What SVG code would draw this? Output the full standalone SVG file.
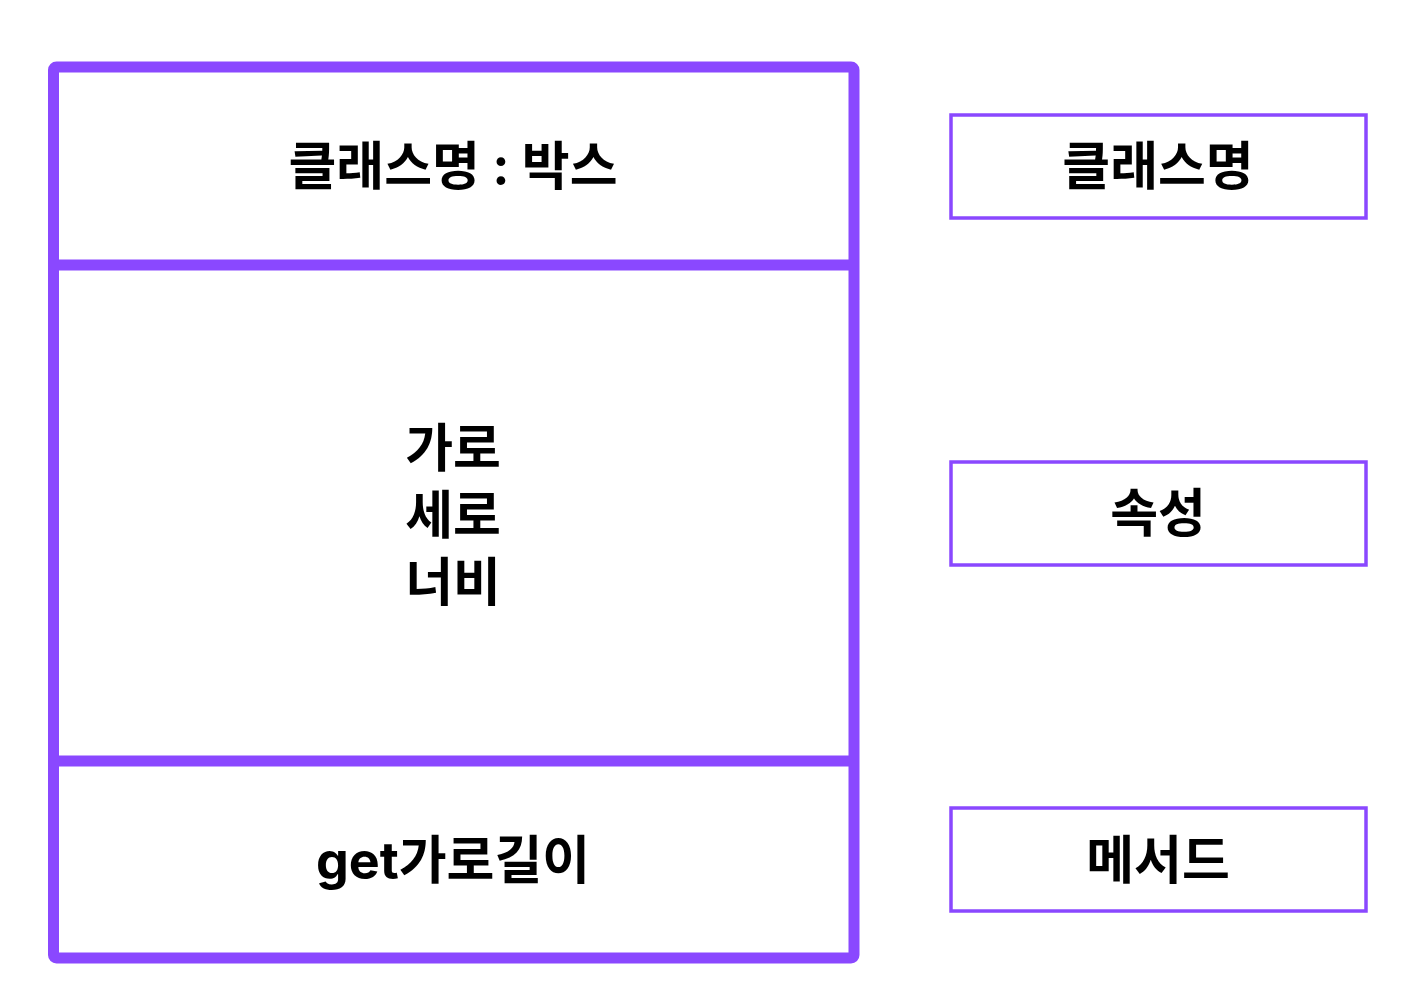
<svg xmlns="http://www.w3.org/2000/svg" width="1419" height="1000" viewBox="0 0 1419 1000">
<style>
.thick{fill:none;stroke:#8A48FF;stroke-width:11;stroke-linejoin:round}
.thin{fill:#fff;stroke:#8A48FF;stroke-width:3.5}
.t{font-family:"Inter","Noto Sans CJK KR",sans-serif;font-weight:700;font-size:52px;fill:#000;text-anchor:middle;dominant-baseline:central}
</style>
<rect width="1419" height="1000" fill="#fff"/>
<g id="class-box">
<rect class="thick" x="53.5" y="67" width="800.5" height="891" rx="3"/>
<line class="thick" x1="53.5" y1="265" x2="854" y2="265"/>
<line class="thick" x1="53.5" y1="761" x2="854" y2="761"/>
<text class="t" x="453" y="166">클래스명 : 박스</text>
<text class="t" x="453" y="448">가로</text>
<text class="t" x="453" y="515">세로</text>
<text class="t" x="453" y="582">너비</text>
<text class="t" x="453" y="860">get가로길이</text>
</g>
<g id="label-classname">
<rect class="thin" x="951" y="115" width="415" height="103"/>
<text class="t" x="1158" y="166">클래스명</text>
</g>
<g id="label-attr">
<rect class="thin" x="951" y="462" width="415" height="103"/>
<text class="t" x="1158" y="513">속성</text>
</g>
<g id="label-method">
<rect class="thin" x="951" y="808" width="415" height="103"/>
<text class="t" x="1158" y="860">메서드</text>
</g>
<g id="connectors"></g>
</svg>
